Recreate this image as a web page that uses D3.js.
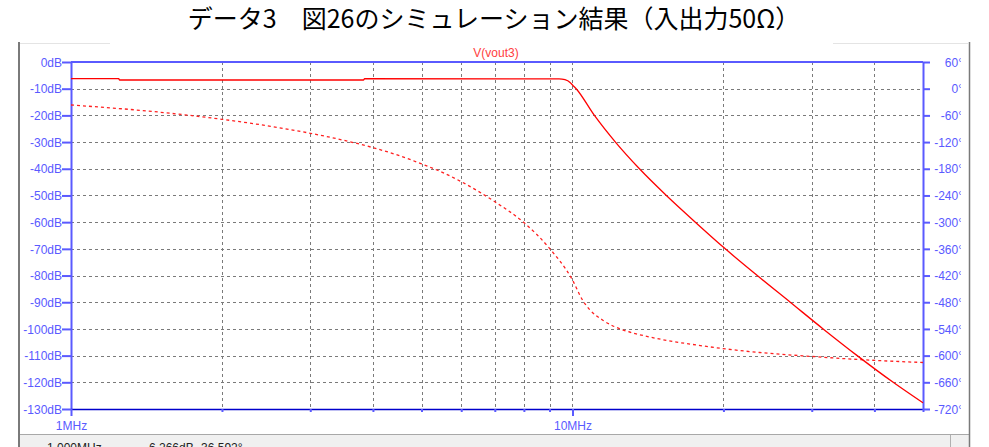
<!DOCTYPE html>
<html><head><meta charset="utf-8">
<script src="https://cdn.jsdelivr.net/npm/d3@7"></script>
<style>
html,body{margin:0;padding:0;background:#fff;overflow:hidden;}
svg{display:block;}
</style></head>
<body>
<svg id="chart" width="989" height="447"></svg>
<script>
// ---- data ----
const titleText = "データ3　図26のシミュレーション結果（入出力50Ω）";
const seriesName = "V(vout3)";
const magFreq = [1, 1.245, 1.25, 3.83, 3.85, 9.4, 9.66, 9.89, 10.0, 10.17, 11.06, 12.18, 13.6, 15.39, 17.58, 20.17, 23.36, 27.18, 31.61, 36.96, 43.6, 50];
const magDb   = [-6.26, -6.26, -6.75, -6.75, -6.26, -6.3, -6.63, -7.65, -8.6, -10, -20, -30, -40, -50, -60, -70, -80, -90, -100, -110, -120, -127.7];
const phFreq  = [1, 1.5, 2, 2.5, 3, 3.5, 4, 4.5, 5, 5.5, 6, 7, 8, 9, 10, 10.47, 10.81, 11.48, 12.58, 13.4, 15.11, 17.63, 19.9, 23.6, 30.1, 37.5, 50];
const phDeg   = [-36.6, -52.7, -68.8, -84.5, -100.2, -116, -132.5, -150, -169, -188, -209, -254, -301, -359, -430, -475, -496, -520, -542, -551, -564, -576, -584, -593, -602, -609, -615.5];
const dbTicks = [0, -10, -20, -30, -40, -50, -60, -70, -80, -90, -100, -110, -120, -130];
const degTicks = [60, 0, -60, -120, -180, -240, -300, -360, -420, -480, -540, -600, -660, -720];
const freqGrid = [1,2,3,4,5,6,7,8,9,10,20,30,40,50];
const freqLabels = [1, 10];
const statusFreq = "1.000MHz";
const statusVal = "-6.266dB,-36.592°";

// ---- layout ----
const L = 71, R = 923, T = 62, B = 409;
const svg = d3.select("#chart");
const x = d3.scaleLog().domain([1, 50]).range([L, R]);
const yDb = d3.scaleLinear().domain([-130, 0]).range([B, T]);
const yDeg = d3.scaleLinear().domain([-720, 60]).range([B, T]);
const blue = "#5a5aff", font = "'Liberation Sans', Arial, sans-serif";

// frame
svg.append("rect").attr("x",19).attr("y",435).attr("width",950).attr("height",12).attr("fill","#f0f0f0");
svg.append("line").attr("x1",19).attr("x2",969).attr("y1",434.5).attr("y2",434.5).attr("stroke","#a8a8a8");
svg.append("line").attr("x1",950.5).attr("x2",950.5).attr("y1",435).attr("y2",447).attr("stroke","#b0b0b0");
svg.append("line").attr("x1",19).attr("x2",19).attr("y1",42).attr("y2",447).attr("stroke","#7a7a7a").attr("stroke-width",2);
svg.append("line").attr("x1",969.5).attr("x2",969.5).attr("y1",42).attr("y2",447).attr("stroke","#7a7a7a").attr("stroke-width",1.5);
svg.append("line").attr("x1",20).attr("x2",110).attr("y1",43.5).attr("y2",43.5).attr("stroke","#e4e4e4");
svg.append("line").attr("x1",833).attr("x2",968).attr("y1",43.5).attr("y2",43.5).attr("stroke","#e4e4e4");
svg.append("text").attr("x",47).attr("y",452).attr("font-family",font).attr("font-size",12).attr("fill","#222").text(statusFreq);
svg.append("text").attr("x",145).attr("y",452).attr("font-family",font).attr("font-size",12).attr("fill","#222").text(statusVal);

// grid
const grid = svg.append("g").attr("stroke","#7a7a7a").attr("stroke-dasharray","3,3").attr("stroke-width",1);
dbTicks.filter(d => d !== 0 && d !== -130).forEach(d => {
  grid.append("line").attr("x1",L).attr("x2",R).attr("y1",Math.round(yDb(d))+0.5).attr("y2",Math.round(yDb(d))+0.5);
});
freqGrid.filter(f => f !== 1 && f !== 50).forEach(f => {
  grid.append("line").attr("x1",Math.round(x(f))+0.5).attr("x2",Math.round(x(f))+0.5).attr("y1",T).attr("y2",B);
});

// axes
const leftAx = svg.append("g").attr("transform",`translate(${L},0)`)
  .call(d3.axisLeft(yDb).tickValues(dbTicks).tickSize(9).tickSizeOuter(0).tickFormat(d => d + "dB"));
const rightAx = svg.append("g").attr("transform",`translate(${R},0)`)
  .call(d3.axisRight(yDeg).tickValues(degTicks).tickSize(7).tickSizeOuter(0).tickFormat(d => d + "°"));
const botAx = svg.append("g").attr("transform",`translate(0,${B})`)
  .call(d3.axisBottom(x).tickValues(freqGrid).tickSize(3).tickSizeOuter(0).tickFormat(f => freqLabels.includes(f) ? f + "MHz" : ""));
[leftAx, rightAx, botAx].forEach(g => {
  g.select(".domain").attr("stroke", blue).attr("stroke-width", 2);
  g.selectAll(".tick line").attr("stroke", blue).attr("stroke-width", 2);
  g.selectAll(".tick text").attr("fill", blue).attr("font-family", font).attr("font-size", 12);
});
leftAx.selectAll(".tick text").attr("x",-9).attr("dy","0.35em");
botAx.select(".domain").attr("stroke","#0000cc").attr("stroke-width",1.5);
botAx.selectAll(".tick line").filter(f => freqLabels.includes(f)).attr("y2",7);
botAx.selectAll(".tick text").attr("y",12);
// right labels right-aligned, degree sign partly clipped like the reference
svg.append("clipPath").attr("id","rc").append("rect").attr("x",R-2).attr("y",40).attr("width",961-R+2).attr("height",390);
rightAx.selectAll(".tick text").attr("text-anchor","end").attr("x",963-R).attr("dy","0.35em");
const rClipG = svg.append("g").attr("clip-path","url(#rc)");
rClipG.node().appendChild(rightAx.node());
svg.append("line").attr("x1",L).attr("x2",R).attr("y1",T).attr("y2",T).attr("stroke",blue).attr("stroke-width",2);

// series
svg.append("clipPath").attr("id","pc").append("rect").attr("x",L).attr("y",T-1).attr("width",R-L+1).attr("height",B-T+2);
const plot = svg.append("g").attr("clip-path","url(#pc)");
const lineMag = d3.line().x((d,i) => x(magFreq[i])).y(d => yDb(d)).curve(d3.curveMonotoneX);
const linePh = d3.line().x((d,i) => x(phFreq[i])).y(d => yDeg(d)).curve(d3.curveMonotoneX);
plot.append("path").attr("d", linePh(phDeg)).attr("fill","none").attr("stroke","#ff2020").attr("stroke-width",1.3).attr("stroke-dasharray","3,3");
plot.append("path").attr("d", lineMag(magDb)).attr("fill","none").attr("stroke","#ff0000").attr("stroke-width",1.3);

// legend & title
svg.append("text").attr("x",496).attr("y",57).attr("text-anchor","middle").attr("font-family",font).attr("font-size",12).attr("fill","#ff4040").text(seriesName);
svg.append("text").attr("x",494).attr("y",28).attr("text-anchor","middle").attr("font-family","'Noto Sans CJK JP', sans-serif").attr("font-size",25).attr("fill","#000").text(titleText);
</script>
</body></html>
